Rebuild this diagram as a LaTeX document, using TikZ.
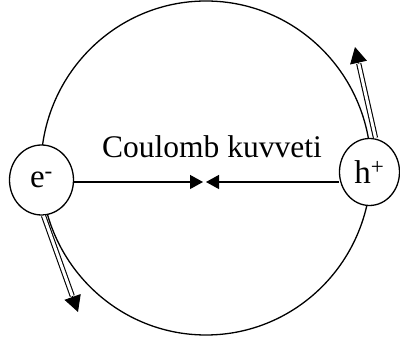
\documentclass[tikz,border=0pt]{standalone}
\usepackage{fontspec}
\setmainfont{Liberation Serif}
\usetikzlibrary{shapes.geometric,arrows.meta}
\begin{document}
\begin{tikzpicture}[x=1pt,y=-1pt,line width=1.3pt,
  particle/.style={ellipse,draw,fill=white,inner sep=0pt,font=\fontsize{33}{37}\selectfont},
  force/.style={-{Triangle[length=13pt,width=14pt]}},
  motionhead/.style={line width=1pt,-{Triangle[length=16pt,width=17pt]}},
  motion/.style={double,double distance=3pt,line width=1.1pt,shorten >=17pt}]
\useasboundingbox (0,0) rectangle (400,347);
\draw (206,168) ellipse [x radius=165, y radius=167];
\node[particle,minimum width=64pt,minimum height=70pt] (e) at (41.5,180) {e\textsuperscript{-}};
\node[particle,minimum width=60pt,minimum height=67pt] (h) at (369.5,172) {h\textsuperscript{+}};
\coordinate (ca) at (203,182);
\coordinate (cb) at (206,182);
\coordinate (etip) at (78,312);
\coordinate (htip) at (355,47);
\node[anchor=base,font=\fontsize{31.5}{35}\selectfont] (lbl) at (212,158) {Coulomb kuvveti};
\draw[force] (e.east |- ca) -- (ca);
\draw[force] (h.west |- cb) -- (cb);
\draw[motionhead] ([xshift=2pt]e.south) -- (etip);
\draw[motion] ([xshift=2pt]e.south) -- (etip);
\draw[motionhead] ([xshift=6pt]h.north) -- (htip);
\draw[motion] ([xshift=6pt]h.north) -- (htip);
\end{tikzpicture}
\end{document}
